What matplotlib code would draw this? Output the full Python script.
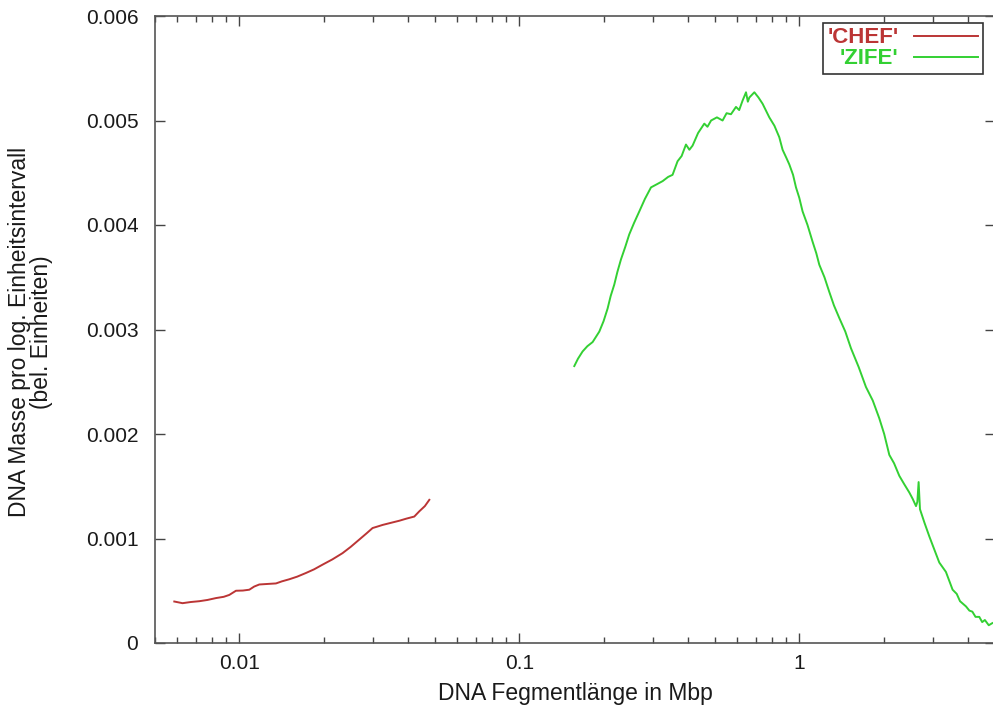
import matplotlib.pyplot as plt
from matplotlib.ticker import LogLocator, FixedLocator, FuncFormatter, NullFormatter

plt.rcParams['font.family'] = ['Liberation Sans', 'DejaVu Sans']

# CHEF: fragment length (Mbp) and DNA mass per log interval
chef_x = [0.00586, 0.00627, 0.00670, 0.00720, 0.00770, 0.00826, 0.00880, 0.00921,
          0.00973, 0.01030, 0.01086, 0.01130, 0.01179, 0.01260, 0.01352, 0.01420,
          0.01509, 0.01610, 0.01730, 0.01850, 0.01984, 0.02150, 0.02338, 0.02500,
          0.02683, 0.02850, 0.02992, 0.03120, 0.03251, 0.03480, 0.03728, 0.03950,
          0.04217, 0.04394, 0.04600, 0.04772]
chef_y = [0.000397, 0.000381, 0.000392, 0.000400, 0.000412, 0.000430, 0.000442, 0.000460,
          0.000500, 0.000502, 0.000510, 0.000540, 0.000560, 0.000565, 0.000570, 0.000590,
          0.000610, 0.000635, 0.000670, 0.000705, 0.000750, 0.000800, 0.000860, 0.000920,
          0.000990, 0.001050, 0.001100, 0.001115, 0.001130, 0.001150, 0.001170, 0.001190,
          0.001210, 0.001260, 0.001310, 0.001370]

# ZIFE: fragment length (Mbp) and DNA mass per log interval
zife_x = [0.1572, 0.1620, 0.1683, 0.1750, 0.1828, 0.1931, 0.2000, 0.2067, 0.2120,
          0.2184, 0.2240, 0.2307, 0.2390, 0.2470, 0.2570, 0.2683, 0.2810, 0.2954,
          0.3100, 0.3251, 0.3400, 0.3527, 0.3675, 0.3800, 0.3938, 0.4050, 0.4159,
          0.4350, 0.4579, 0.4700, 0.4842, 0.5080, 0.5322, 0.5500, 0.5702, 0.5942,
          0.6100, 0.6272, 0.6452, 0.6550, 0.6632, 0.6911, 0.7150, 0.7396, 0.7815,
          0.8150, 0.8483, 0.8717, 0.9000, 0.9211, 0.9500, 0.9732, 1.0000, 1.0275,
          1.0700, 1.1155, 1.1500, 1.1788, 1.2300, 1.2797, 1.3300, 1.3895, 1.4600,
          1.5298, 1.6300, 1.7300, 1.8300, 1.9307, 2.0100, 2.0966, 2.1800, 2.2760,
          2.3700, 2.4717, 2.5400, 2.6113, 2.6400, 2.6680, 2.6980, 2.8000, 2.9134,
          3.0300, 3.1623, 3.3400, 3.5280, 3.6500, 3.7500, 3.9390, 4.0500, 4.1500,
          4.2600, 4.3940, 4.5000, 4.6000, 4.7500, 4.8900]
zife_y = [0.00265, 0.00272, 0.00279, 0.00284, 0.00288, 0.00298, 0.00308, 0.00320, 0.00332,
          0.00343, 0.00355, 0.00367, 0.00379, 0.00391, 0.00402, 0.00413, 0.00425, 0.00436,
          0.00439, 0.00442, 0.00446, 0.00448, 0.00461, 0.00466, 0.00477, 0.00472, 0.00476,
          0.00488, 0.00497, 0.00494, 0.00500, 0.00503, 0.00500, 0.00507, 0.00506, 0.00513,
          0.00510, 0.00519, 0.00527, 0.00518, 0.00522, 0.00527, 0.00522, 0.00516, 0.00503,
          0.00495, 0.00484, 0.00472, 0.00464, 0.00458, 0.00448, 0.00436, 0.00426, 0.00413,
          0.00400, 0.00384, 0.00373, 0.00362, 0.00350, 0.00336, 0.00323, 0.00311, 0.00298,
          0.00282, 0.00264, 0.00245, 0.00232, 0.00215, 0.00200, 0.00180, 0.00172, 0.00160,
          0.00152, 0.00144, 0.00138, 0.00131, 0.00135, 0.00154, 0.00128, 0.00115, 0.00102,
          0.00090, 0.00077, 0.00068, 0.00051, 0.00047, 0.00040, 0.00035, 0.00031, 0.00030,
          0.00025, 0.00025, 0.00020, 0.00022, 0.00017, 0.00019]

chef_col = '#bb3535'
zife_col = '#33d033'

fig = plt.figure(figsize=(9.93, 7.15), dpi=100)
ax = fig.add_axes([155 / 993, 72 / 715, 840 / 993, 627 / 715])

ax.plot(chef_x, chef_y, color=chef_col, lw=1.4, label="'CHEF'")
ax.plot(zife_x, zife_y, color=zife_col, lw=1.4, label="'ZIFE'")

ax.set_xscale('log')
ax.set_xlim(0.005, 5)
ax.set_ylim(0, 0.006)

ax.xaxis.set_major_locator(FixedLocator([0.01, 0.1, 1]))
ax.xaxis.set_minor_locator(LogLocator(base=10, subs=range(2, 10)))
ax.xaxis.set_minor_formatter(NullFormatter())
ax.xaxis.set_major_formatter(FuncFormatter(lambda v, p: '%g' % v))
ax.set_yticks([0, 0.001, 0.002, 0.003, 0.004, 0.005, 0.006])
ax.yaxis.set_major_formatter(FuncFormatter(lambda v, p: '0' if v == 0 else '%.3f' % v))

ax.tick_params(which='both', direction='in', top=True, right=True, colors='#444444',
               labelcolor='#1a1a1a', labelsize=15)
ax.tick_params(which='major', length=7, width=1)
ax.tick_params(which='minor', length=4, width=1)
ax.tick_params(axis='y', pad=12)
ax.tick_params(axis='x', pad=8)

for s in ax.spines.values():
    s.set_color('#555555')
    s.set_linewidth(1.2)

ax.set_xlabel('DNA Fegmentlänge in Mbp', fontsize=16.5, color='#1a1a1a')
ax.set_ylabel('DNA Masse pro log. Einheitsintervall\n(bel. Einheiten)', fontsize=16.5,
              color='#1a1a1a', linespacing=0.95)
ax.xaxis.set_label_coords(0.5, -0.062)
ax.yaxis.set_label_coords(-0.121, 0.496)

leg = ax.legend(loc='upper right', bbox_to_anchor=(0.9855, 0.989), markerfirst=False,
                fancybox=False, edgecolor='#333333', framealpha=1, fontsize=16,
                labelcolor='linecolor', handlelength=2.9, borderpad=0.2,
                labelspacing=0.0, handletextpad=0.7, borderaxespad=0)
leg.get_frame().set_linewidth(1.2)
for t in leg.get_texts():
    t.set_fontweight('bold')

fig.savefig('out.png', dpi=100)
